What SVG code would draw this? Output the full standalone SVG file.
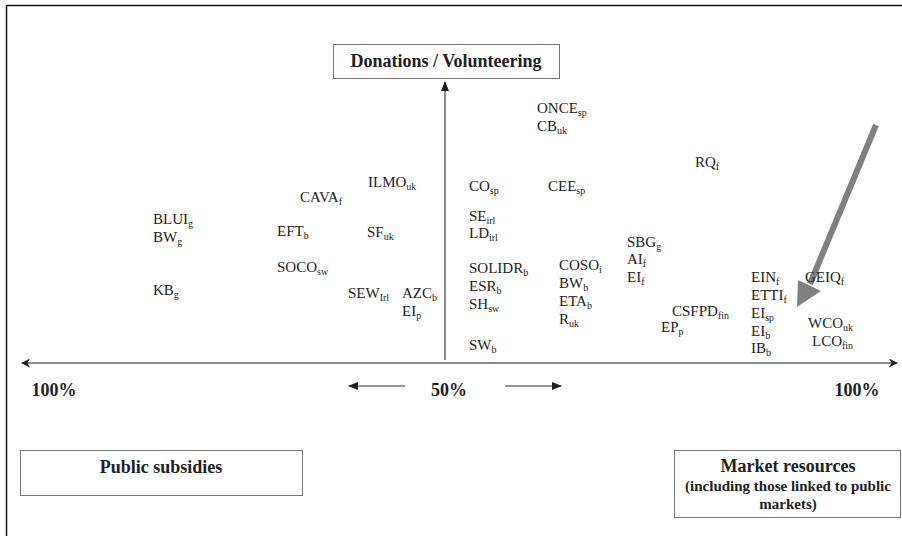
<svg xmlns="http://www.w3.org/2000/svg" width="902" height="536" viewBox="0 0 902 536">
<style>
.lb{font-family:"Liberation Serif","Times New Roman",serif;font-size:15px;fill:#222}
.lb tspan{font-size:10px}
.bd{font-family:"Liberation Serif","Times New Roman",serif;font-weight:bold;fill:#222;text-anchor:middle}
.box{fill:#fff;stroke:#777;stroke-width:1}
.ax{stroke:#666;stroke-width:1.5;fill:none}
</style>
<defs>
<marker id="ah" viewBox="0 0 10 10" refX="9" refY="5" markerWidth="9" markerHeight="9" markerUnits="userSpaceOnUse" orient="auto-start-reverse">
<path d="M0,0 L10,5 L0,10 L3,5 z" fill="#222"/>
</marker>
<marker id="ah2" viewBox="0 0 10 10" refX="9" refY="5" markerWidth="12" markerHeight="10" markerUnits="userSpaceOnUse" orient="auto-start-reverse">
<path d="M0,1 L10,5 L0,9 z" fill="#222"/>
</marker>
</defs>
<rect width="902" height="536" fill="#fff"/>
<path d="M6.5,536 V5.5 H902" fill="none" stroke="#111" stroke-width="1.5"/>

<g id="connectors">
<line class="ax" x1="445" y1="360" x2="445" y2="82" marker-end="url(#ah2)"/>
<line class="ax" x1="22" y1="363" x2="897" y2="363" marker-start="url(#ah)" marker-end="url(#ah)"/>
<line x1="405" y1="386" x2="349" y2="386" stroke="#333" stroke-width="1.2" marker-end="url(#ah2)"/>
<line x1="505" y1="386" x2="561" y2="386" stroke="#333" stroke-width="1.2" marker-end="url(#ah2)"/>
<g id="grey-arrow">
<line x1="876" y1="125" x2="810" y2="284" stroke="#808080" stroke-width="6"/>
<polygon points="797,307 798,280 821,291" fill="#808080"/>
</g>
</g>

<g id="donations">
<rect class="box" x="333.5" y="44.5" width="226" height="34"/>
<text class="bd" x="446" y="67" font-size="18">Donations / Volunteering</text>
</g>
<g id="public-subsidies">
<rect class="box" x="20.5" y="450.5" width="282" height="45"/>
<text class="bd" x="161" y="473" font-size="18">Public subsidies</text>
</g>
<g id="market-resources">
<rect class="box" x="674.5" y="450.5" width="226" height="67"/>
<text class="bd" x="788" y="472" font-size="18">Market resources</text>
<text class="bd" x="788" y="491" font-size="15">(including those linked to public</text>
<text class="bd" x="788" y="509" font-size="15">markets)</text>
</g>
<g id="scale">
<text class="bd" x="54" y="396" font-size="18">100%</text>
<text class="bd" x="449" y="396" font-size="18">50%</text>
<text class="bd" x="857" y="396" font-size="18">100%</text>
</g>

<g id="labels">
<text class="lb" x="537" y="113">ONCE<tspan dy="3">sp</tspan></text>
<text class="lb" x="537" y="131">CB<tspan dy="3">uk</tspan></text>
<text class="lb" x="695" y="167">RQ<tspan dy="3">f</tspan></text>
<text class="lb" x="368" y="187">ILMO<tspan dy="3">uk</tspan></text>
<text class="lb" x="300" y="202">CAVA<tspan dy="3">f</tspan></text>
<text class="lb" x="469" y="191">CO<tspan dy="3">sp</tspan></text>
<text class="lb" x="548" y="191">CEE<tspan dy="3">sp</tspan></text>
<text class="lb" x="153" y="224">BLUI<tspan dy="3">g</tspan></text>
<text class="lb" x="153" y="242">BW<tspan dy="3">g</tspan></text>
<text class="lb" x="277" y="236">EFT<tspan dy="3">b</tspan></text>
<text class="lb" x="367" y="237">SF<tspan dy="3">uk</tspan></text>
<text class="lb" x="469" y="221">SE<tspan dy="3">irl</tspan></text>
<text class="lb" x="469" y="238">LD<tspan dy="3">irl</tspan></text>
<text class="lb" x="627" y="247">SBG<tspan dy="3">g</tspan></text>
<text class="lb" x="627" y="264">AI<tspan dy="3">f</tspan></text>
<text class="lb" x="627" y="282">EI<tspan dy="3">f</tspan></text>
<text class="lb" x="277" y="272">SOCO<tspan dy="3">sw</tspan></text>
<text class="lb" x="153" y="295">KB<tspan dy="3">g</tspan></text>
<text class="lb" x="348" y="298">SEW<tspan dy="3">Irl</tspan></text>
<text class="lb" x="402" y="298">AZC<tspan dy="3">b</tspan></text>
<text class="lb" x="402" y="316">EI<tspan dy="3">p</tspan></text>
<text class="lb" x="469" y="273">SOLIDR<tspan dy="3">b</tspan></text>
<text class="lb" x="469" y="291">ESR<tspan dy="3">b</tspan></text>
<text class="lb" x="469" y="309">SH<tspan dy="3">sw</tspan></text>
<text class="lb" x="469" y="350">SW<tspan dy="3">b</tspan></text>
<text class="lb" x="559" y="270">COSO<tspan dy="3">i</tspan></text>
<text class="lb" x="559" y="288">BW<tspan dy="3">b</tspan></text>
<text class="lb" x="559" y="306">ETA<tspan dy="3">b</tspan></text>
<text class="lb" x="559" y="324">R<tspan dy="3">uk</tspan></text>
<text class="lb" x="672" y="316">CSFPD<tspan dy="3">fin</tspan></text>
<text class="lb" x="661" y="332">EP<tspan dy="3">p</tspan></text>
<text class="lb" x="751" y="282">EIN<tspan dy="3">f</tspan></text>
<text class="lb" x="805" y="282">GEIQ<tspan dy="3">f</tspan></text>
<text class="lb" x="751" y="300">ETTI<tspan dy="3">f</tspan></text>
<text class="lb" x="751" y="318">EI<tspan dy="3">sp</tspan></text>
<text class="lb" x="751" y="336">EI<tspan dy="3">b</tspan></text>
<text class="lb" x="751" y="353">IB<tspan dy="3">b</tspan></text>
<text class="lb" x="808" y="328">WCO<tspan dy="3">uk</tspan></text>
<text class="lb" x="812" y="346">LCO<tspan dy="3">fin</tspan></text>
</g>
</svg>
